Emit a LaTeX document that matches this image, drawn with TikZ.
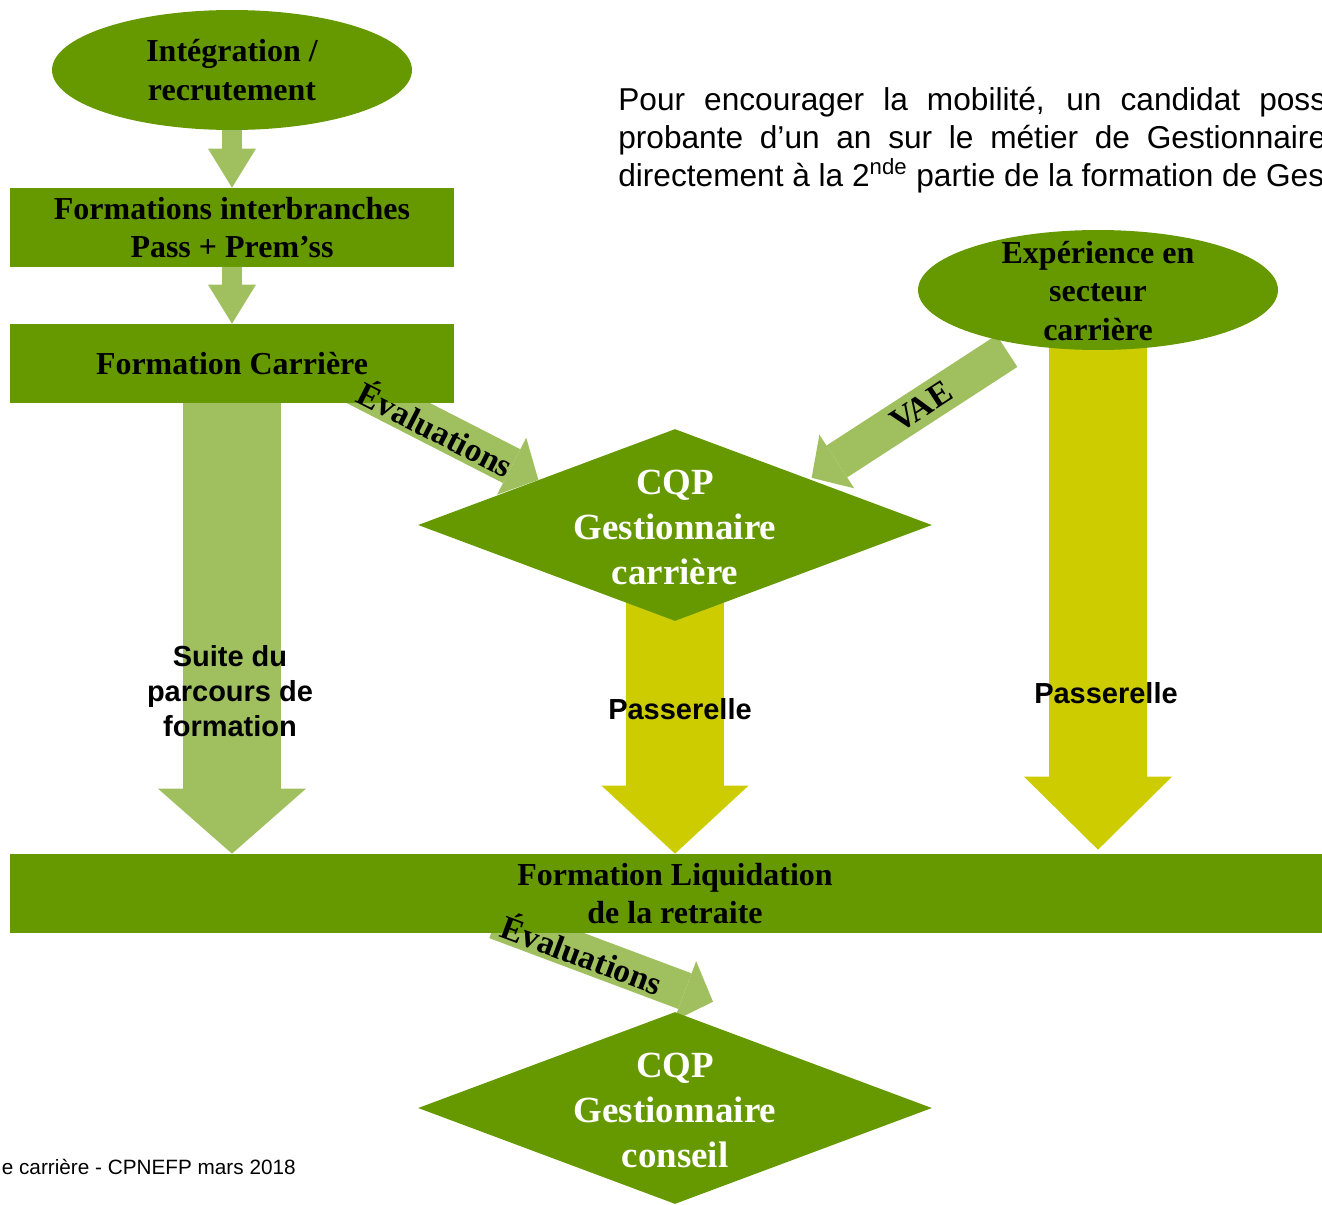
\documentclass[tikz,border=0pt]{standalone}
\usepackage{fontspec}
\setmainfont{Liberation Serif}
\setsansfont{Liberation Sans}
\usetikzlibrary{shapes.geometric, arrows.meta, calc, backgrounds}
\definecolor{leaf}{RGB}{102,153,0}
\definecolor{sage}{RGB}{160,192,96}
\definecolor{mustard}{RGB}{204,204,0}
\tikzstyle{stage} = [rectangle, minimum width=8.88cm, minimum height=1.58cm, inner sep=0pt, align=center, fill=leaf, font=\fontsize{18.2}{21.6}\selectfont\bfseries]
\tikzstyle{entry} = [ellipse, minimum width=7.2cm, minimum height=2.4cm, inner sep=0pt, align=center, fill=leaf, font=\fontsize{18.2}{21.9}\selectfont\bfseries]
\tikzstyle{entrytext} = [align=center, font=\fontsize{18.2}{21.9}\selectfont\bfseries]
\tikzstyle{goal} = [diamond, minimum width=10.28cm, minimum height=3.84cm, inner sep=0pt, fill=leaf]
\tikzstyle{goaltext} = [align=center, text=white, font=\fontsize{21}{25.6}\selectfont\bfseries]
\tikzstyle{feed} = [draw=sage, line width=0.4cm, -{Triangle[length=0.78cm, width=0.96cm, line width=0pt]}]
\tikzstyle{track} = [draw=sage, line width=1.98cm, -{Triangle[length=1.3cm, width=2.96cm, line width=0pt]}]
\tikzstyle{bridge} = [draw=mustard, line width=1.96cm, -{Triangle[length=1.36cm, width=2.94cm, line width=0pt]}]
\tikzstyle{slant} = [draw=sage, line width=0.76cm, -{Triangle[length=0.6cm, width=1.28cm, line width=0pt]}]
\tikzstyle{flowlabel} = [align=center, font=\sffamily\bfseries\fontsize{16.5}{19.9}\selectfont]
\tikzstyle{pathlabel} = [font=\fontsize{19}{22}\selectfont\bfseries]
\tikzstyle{note} = [anchor=base west, inner sep=0pt, font=\sffamily\fontsize{18}{21.6}\selectfont]

\begin{document}
\begin{tikzpicture}[x=0.02cm, y=-0.02cm]
\useasboundingbox (0,0) rectangle (1322,1204);
\clip (0,0) rectangle (1322,1204);

% left column
\node (intg)  [entry] at (232,70)    {Intégration /\\recrutement};
\node (inter) [stage] at (232,227.5) {Formations interbranches\\Pass + Prem’ss};
\node (carr)  [stage] at (232,363.5) {Formation Carrière};

% right entry
\node (exp) [entry] at (1098,290) {};
\node (exptxt) [entrytext] at (1098,291) {Expérience en\\secteur\\carrière};

% certificates
\node (cqp1) [goal] at (675,525) {};
\node (cqp1txt) [goaltext] at (675,527) {CQP\\Gestionnaire\\carrière};
\node (liq) [stage, minimum width=26.6cm] at (675,893.5) {Formation Liquidation\\de la retraite};
\node (cqp2) [goal] at (675,1108) {};
\node (cqp2txt) [goaltext] at (675,1110) {CQP\\Gestionnaire\\conseil};

% free ends of the slanted arrows
\coordinate (evaltail) at ($(carr.south east)+(-124,-30)$);
\coordinate (evaltip)  at ($(cqp1.north west)+(-8,3)$);
\coordinate (vaetail)  at ($(exp.center)+(-91,61)$);
\coordinate (vaetip)   at ($(cqp1.north east)+(8,1)$);
\coordinate (lasttail) at ($(liq.south)+(-179,-13)$);
\coordinate (lasttip)  at ($(cqp2.north)+(38,-10)$);

%% Connections
\begin{scope}[on background layer]
\draw [feed]  (intg.south)  -- (inter.north);
\draw [feed]  (inter.south) -- (carr.north);
\draw [track] (carr.south)  -- node[flowlabel, pos=0.64, xshift=-0.04cm] {Suite du\\parcours de\\formation} (carr.south |- liq.north);
\draw [bridge] (cqp1.center) -- node[flowlabel, pos=0.56, xshift=0.1cm] {Passerelle} (cqp1.center |- liq.north);
\draw [bridge, -{Triangle[length=1.46cm, width=2.96cm, line width=0pt]}] (exp.center) -- node[flowlabel, pos=0.72, xshift=0.16cm] {Passerelle} ($(exp.center |- liq.north)+(0,-4)$);
\draw [slant] (evaltail) -- (evaltip);
\draw [slant] (vaetail)  -- (vaetip);
\draw [slant] (lasttail) -- (lasttip);
\end{scope}
\path (evaltail) -- node[pathlabel, sloped, pos=0.51] {Évaluations} (evaltip);
\path (vaetail)  -- node[pathlabel, sloped, pos=0.44] {VAE} (vaetip);
\path (lasttail) -- node[pathlabel, sloped, pos=0.40] {Évaluations} (lasttip);

% note
\node (note1) [note] at (618,110) {\makebox[14.16cm][s]{Pour encourager la mobilité, un candidat poss}};
\node (note2) [note] at (618,148) {\makebox[14.16cm][s]{probante d’un an sur le métier de Gestionnaire}};
\node (note3) [note] at (618,186) {directement à la 2\textsuperscript{nde} partie de la formation de Ges};

\node (foot) [anchor=base east, inner sep=0pt, font=\sffamily\fontsize{11.8}{14}\selectfont] at (296,1174) {e carrière - CPNEFP mars 2018};
\end{tikzpicture}
\end{document}
